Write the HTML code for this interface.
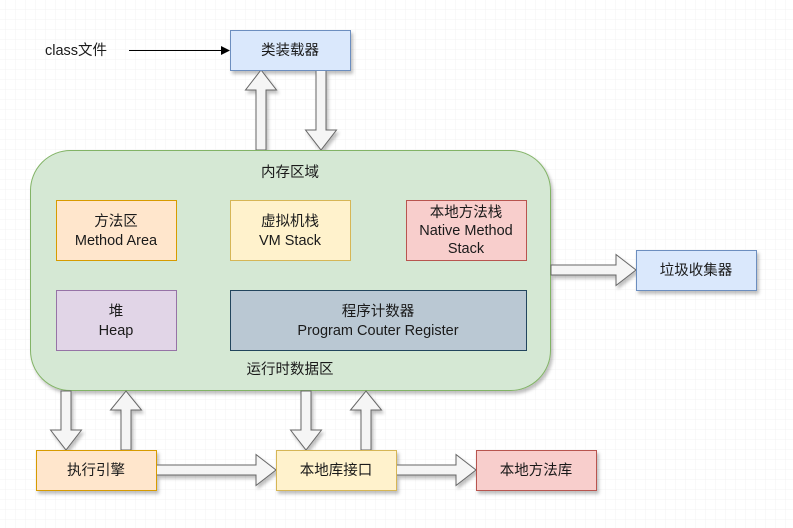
<!DOCTYPE html>
<html><head><meta charset="utf-8"><style>
html,body{margin:0;padding:0;background:#fff}
svg{display:block}
text{font-family:"Liberation Sans","Noto Sans CJK SC",sans-serif;font-size:14.5px;fill:#1a1a1a}
</style></head><body>
<svg width="793" height="528" viewBox="0 0 793 528" xmlns="http://www.w3.org/2000/svg">
<defs>
<pattern id="minor" width="10" height="10" patternUnits="userSpaceOnUse" x="6" y="0">
<path d="M10 0V10M0 10H10" stroke="#f3f3f3" stroke-width="1" fill="none"/>
</pattern>
<pattern id="major" width="40" height="40" patternUnits="userSpaceOnUse" x="-4" y="-10">
<path d="M40.5 0V40M0 40.5H40" stroke="#e0e0e0" stroke-width="1" fill="none"/>
</pattern>
<filter id="sh" x="-10%" y="-10%" width="130%" height="130%">
<feDropShadow dx="2" dy="3" stdDeviation="1.5" flood-color="#000" flood-opacity="0.25"/>
</filter>
</defs>
<rect width="793" height="528" fill="url(#minor)"/>
<rect width="793" height="528" fill="url(#major)"/>

<g filter="url(#sh)">
<path d="M256 150V90H245.5L261 70L276.5 90H266V150Z" fill="#f5f5f5" stroke="#666"/>
<path d="M316 70V130H305.5L321 150L336.5 130H326V70Z" fill="#f5f5f5" stroke="#666"/>
<rect x="30.5" y="150.5" width="520" height="240" rx="40" fill="#d5e8d4" stroke="#82b366"/>
<rect x="230.5" y="30.5" width="120" height="40" fill="#dae8fc" stroke="#6c8ebf"/>
<rect x="56.5" y="200.5" width="120" height="60" fill="#ffe6cc" stroke="#d79b00"/>
<rect x="230.5" y="200.5" width="120" height="60" fill="#fff2cc" stroke="#d6b656"/>
<rect x="406.5" y="200.5" width="120" height="60" fill="#f8cecc" stroke="#b85450"/>
<rect x="56.5" y="290.5" width="120" height="60" fill="#e1d5e7" stroke="#9673a6"/>
<rect x="230.5" y="290.5" width="296" height="60" fill="#bac8d3" stroke="#23445d"/>
<path d="M551 265H616V254.5L636 270L616 285.5V275H551Z" fill="#f5f5f5" stroke="#666"/>
<rect x="636.5" y="250.5" width="120" height="40" fill="#dae8fc" stroke="#6c8ebf"/>
<path d="M61 391V430H50.5L66 450L81.5 430H71V391Z" fill="#f5f5f5" stroke="#666"/>
<path d="M121 450V410H110.5L126 391L141.5 410H131V450Z" fill="#f5f5f5" stroke="#666"/>
<path d="M301 391V430H290.5L306 450L321.5 430H311V391Z" fill="#f5f5f5" stroke="#666"/>
<path d="M361 450V410H350.5L366 391L381.5 410H371V450Z" fill="#f5f5f5" stroke="#666"/>
<path d="M156 465H256V454.5L276 470L256 485.5V475H156Z" fill="#f5f5f5" stroke="#666"/>
<path d="M396 465H456V454.5L476 470L456 485.5V475H396Z" fill="#f5f5f5" stroke="#666"/>
<rect x="36.5" y="450.5" width="120" height="40" fill="#ffe6cc" stroke="#d79b00"/>
<rect x="276.5" y="450.5" width="120" height="40" fill="#fff2cc" stroke="#d6b656"/>
<rect x="476.5" y="450.5" width="120" height="40" fill="#f8cecc" stroke="#b85450"/>
</g>

<path d="M129 50.5H222" stroke="#000" stroke-width="1"/>
<path d="M230 50.5L221 46V55Z" fill="#000"/>

<g text-anchor="middle">
<text x="76" y="55">class文件</text>
<text x="290" y="55">类装载器</text>
<text x="290" y="177">内存区域</text>
<text x="116" y="226">方法区</text>
<text x="116" y="245">Method Area</text>
<text x="290" y="226">虚拟机栈</text>
<text x="290" y="245">VM Stack</text>
<text x="466" y="217">本地方法栈</text>
<text x="466" y="235">Native Method</text>
<text x="466" y="253">Stack</text>
<text x="116" y="316">堆</text>
<text x="116" y="335">Heap</text>
<text x="378" y="316">程序计数器</text>
<text x="378" y="335">Program Couter Register</text>
<text x="290" y="374">运行时数据区</text>
<text x="696" y="275">垃圾收集器</text>
<text x="96" y="475">执行引擎</text>
<text x="336" y="475">本地库接口</text>
<text x="536" y="475">本地方法库</text>
</g>
</svg>
</body></html>
